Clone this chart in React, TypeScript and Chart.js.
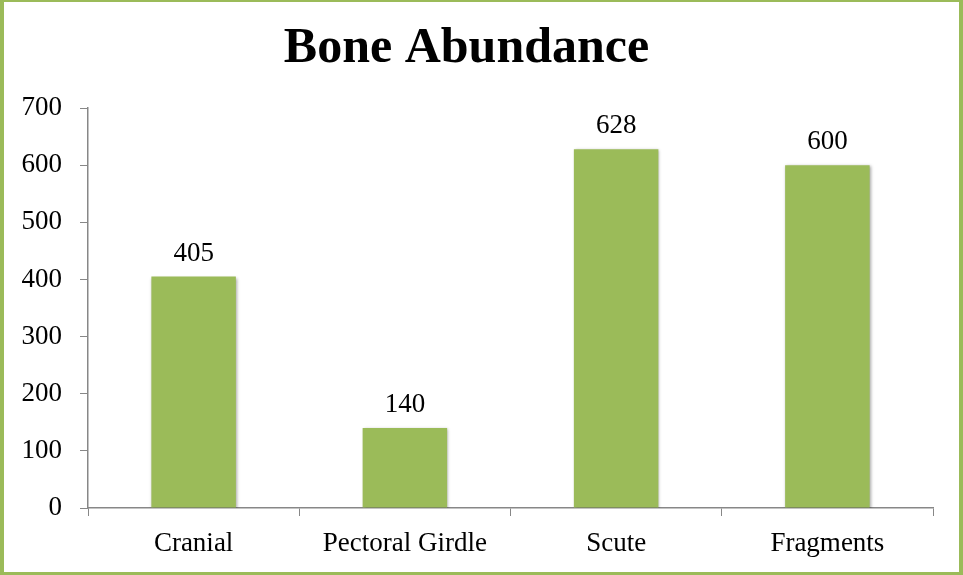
import React, { useEffect, useRef } from "react";
import { Chart, registerables } from "chart.js";

Chart.register(...registerables);

const categories = ["Cranial", "Pectoral Girdle", "Scute", "Fragments"];
const values = [405, 140, 628, 600];
const chartTitle = "Bone Abundance";

const FONT = "'Liberation Serif', 'Times New Roman', serif";
const GREEN = "#9BBB59";
const AXIS = "#878787";

const borderPlugin = {
  id: "frameBorder",
  afterDraw(chart: any) {
    const ctx = chart.ctx;
    const w = chart.width;
    const h = chart.height;
    ctx.save();
    ctx.fillStyle = GREEN;
    ctx.fillRect(0, 0, w, 2);
    ctx.fillRect(0, 0, 4, h);
    ctx.fillRect(w - 4, 0, 4, h);
    ctx.fillRect(0, h - 3, w, 3);
    ctx.restore();
  },
};

const shadowPlugin = {
  id: "barShadow",
  beforeDatasetsDraw(chart: any) {
    const ctx = chart.ctx;
    ctx.save();
    ctx.shadowColor = "rgba(0,0,0,0.35)";
    ctx.shadowBlur = 3;
    ctx.shadowOffsetX = 1;
    ctx.shadowOffsetY = 1;
  },
  afterDatasetsDraw(chart: any) {
    chart.ctx.restore();
  },
};

const labelPlugin = {
  id: "valueLabels",
  afterDatasetsDraw(chart: any) {
    const ctx = chart.ctx;
    const meta = chart.getDatasetMeta(0);
    ctx.save();
    ctx.font = `27px ${FONT}`;
    ctx.fillStyle = "#000";
    ctx.textAlign = "center";
    ctx.textBaseline = "alphabetic";
    meta.data.forEach((bar: any, i: number) => {
      ctx.fillText(String(values[i]), bar.x, bar.y - 16);
    });
    ctx.restore();
  },
};

export default function App() {
  const ref = useRef<HTMLCanvasElement>(null);

  useEffect(() => {
    if (!ref.current) return;
    const chart = new Chart(ref.current, {
      type: "bar",
      data: {
        labels: categories,
        datasets: [
          {
            data: values,
            backgroundColor: GREEN,
            borderWidth: 0,
            barPercentage: 0.4,
            categoryPercentage: 1.0,
          },
        ],
      },
      options: {
        responsive: false,
        animation: false,
        layout: { padding: { left: 0, right: 30, top: 0, bottom: 0 } },
        plugins: {
          legend: { display: false },
          tooltip: { enabled: false },
          title: {
            display: true,
            text: chartTitle,
            color: "#000",
            font: { family: FONT, size: 50, weight: "bold", lineHeight: 1.2 },
            padding: { top: 19, bottom: 29 },
          },
        },
        scales: {
          x: {
            type: "category",
            offset: true,
            grid: {
              offset: true,
              drawOnChartArea: false,
              drawTicks: true,
              tickLength: 8,
              color: AXIS,
            },
            border: { display: true, color: AXIS, width: 1.5 },
            ticks: {
              color: "#000",
              font: { family: FONT, size: 27 },
              padding: 12,
              maxRotation: 0,
              autoSkip: false,
            },
            afterFit(scale: any) {
              scale.height = 67;
            },
          },
          y: {
            min: 0,
            max: 700,
            grid: {
              drawOnChartArea: false,
              drawTicks: true,
              tickLength: 8,
              color: AXIS,
            },
            border: { display: true, color: AXIS, width: 1.5 },
            ticks: {
              stepSize: 100,
              color: "#000",
              font: { family: FONT, size: 27 },
              padding: 18,
            },
            afterFit(scale: any) {
              scale.width = 88;
            },
          },
        },
      },
      plugins: [shadowPlugin, labelPlugin, borderPlugin],
    });
    return () => chart.destroy();
  }, []);

  return (
    <div style={{ position: "fixed", left: 0, top: 0, width: 963, height: 575, background: "#fff" }}>
      <canvas ref={ref} width={963} height={575} style={{ display: "block" }} />
    </div>
  );
}
